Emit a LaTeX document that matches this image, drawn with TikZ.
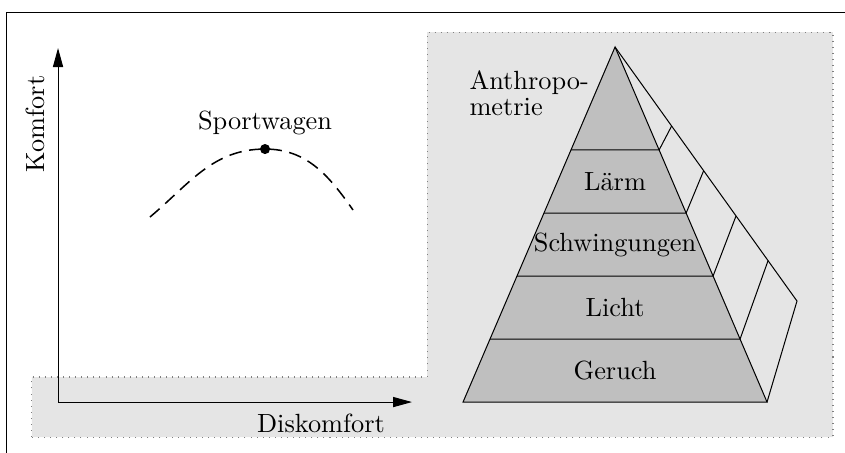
\documentclass[tikz,border=0pt]{standalone}
\usepackage{tikz}
\usetikzlibrary{shapes,arrows,arrows.meta,positioning,calc}
\usepackage{amsmath}
\tikzstyle{region} = [draw=gray, dotted, fill=gray!20]
\tikzstyle{layer} = [draw, fill=gray!50]
\tikzstyle{axis} = [draw, -{Triangle[length=7.5pt,width=4pt]}]
\tikzstyle{curve} = [draw, semithick, dash pattern=on 5pt off 3pt]
\tikzstyle{point} = [circle, fill, inner sep=0pt, minimum size=0.14cm]
\tikzstyle{stage} = [on grid, node distance=0.875cm]

\begin{document}
\begin{tikzpicture}[every node/.style={font=\fontsize{10.4pt}{12pt}\selectfont}]
    \useasboundingbox (0,0) rectangle (11.736,6.278);
    \clip (0,0) rectangle (11.736,6.278);
    % Frame and shaded region
    \draw (0.097,6.111) rectangle (13,-1);
    \path [region] (0.444,0.208) -- (0.444,1.042) -- (5.931,1.042)
        -- (5.931,5.833) -- (11.569,5.833) -- (11.569,0.208) -- cycle;
    % Place nodes
    \coordinate (O) at (0.806,0.694);
    \coordinate (ytop) at (0.806,5.611);
    \coordinate (xend) at (5.722,0.694);
    \node [rotate=90] (Komfort) at (0.486,4.556) {Komfort};
    \node (Diskomfort) at (4.458,0.403) {Diskomfort};
    \coordinate (cstart) at (2.083,3.264);
    \coordinate (cend) at (4.903,3.361);
    \node [point] (Sport) at (3.681,4.208) {};
    \node [above=0pt of Sport] (SportLabel) {Sportwagen};
    % Draw edges
    \path [axis] (O) -- (ytop);
    \path [axis] (O) -- (xend);
    \path [curve] (cstart) to[out=40,in=180] (Sport.center) to[out=0,in=125] (cend);

    % Pyramid
    \coordinate (apex) at (8.542,5.625);
    \coordinate (bl) at (6.431,0.694);
    \coordinate (br) at (10.653,0.694);
    \coordinate (back) at (11.069,2.097);
    \path [layer] (apex) -- (bl) -- (br) -- cycle;
    \draw (apex) -- (back) -- (br);
    \foreach \s/\t in {0.290/0.311, 0.4677/0.487, 0.645/0.665, 0.8226/0.841} {
        \draw ($(apex)!\s!(bl)$) -- ($(apex)!\s!(br)$) -- ($(apex)!\t!(back)$);
    }
    \node (Geruch) at (8.542,1.131) {Geruch};
    \node [stage, above=of Geruch] (Licht) {Licht};
    \node [stage, above=of Licht] (Schwingungen) {Schwingungen};
    \node [stage, above=of Schwingungen] (Laerm) {Lärm};
    \node [align=left, anchor=west, inner sep=0pt,
        font=\fontsize{10.4pt}{10.2pt}\selectfont] (Anthro) at (6.514,4.986) {Anthropo-\\metrie};
\end{tikzpicture}
\end{document}
